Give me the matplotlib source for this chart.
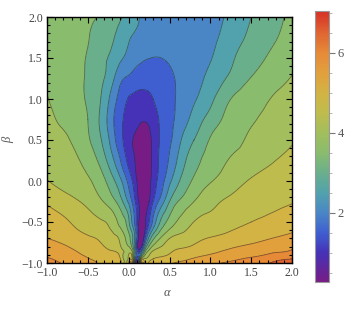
import numpy as np
import matplotlib
matplotlib.use("Agg")
import matplotlib.pyplot as plt
import matplotlib.tri as mtri
from matplotlib.colors import LinearSegmentedColormap, Normalize
from matplotlib.ticker import MultipleLocator, FixedLocator, FuncFormatter
import matplotlib.cm as cm

# ---- data (value of the plotted function on a grid) ----
alpha = [-1, -0.75, -0.5, -0.35, -0.2, -0.1, 0, 0.05, 0.1, 0.15, 0.2, 0.25, 0.3, 0.4, 0.5, 0.65, 0.8, 1.0, 1.25, 1.5, 1.75, 2.0]
beta = [-1, -0.95, -0.85, -0.7, -0.5, -0.25, 0, 0.25, 0.5, 0.75, 1.0, 1.25, 1.5, 1.75, 2.0]

row_m100 = [6.15, 5.89, 5.61, 5.43, 5.21, 5.07, 4.95, 4.85, 0.27, 5.0, 5.06, 5.12, 5.19, 5.31, 5.44, 5.59, 5.72, 5.89, 6.1, 6.31, 6.54, 7.04]
row_m095 = [6.04, 5.78, 5.52, 5.33, 5.13, 5.0, 4.64, 4.33, 1.2, 4.2, 4.58, 4.79, 5.0, 5.11, 5.22, 5.39, 5.54, 5.69, 5.88, 6.08, 6.29, 6.5]
row_m085 = [5.82, 5.61, 5.36, 5.18, 5.0, 4.72, 4.3, 3.67, 1.7, 1.5, 3.25, 4.08, 4.5, 4.7, 4.9, 5.08, 5.21, 5.38, 5.57, 5.73, 5.9, 6.04]
row_m070 = [5.5, 5.29, 5.08, 4.91, 4.64, 4.39, 3.7, 3.0, 1.63, 0.6, 1.5, 2.67, 3.38, 4.08, 4.5, 4.67, 4.83, 5.03, 5.19, 5.34, 5.5, 5.62]
row_m050 = [5.25, 5.03, 4.74, 4.56, 4.29, 3.83, 3.1, 2.33, 1.5, 0.6, 0.9, 1.5, 2.13, 3.14, 3.69, 4.18, 4.51, 4.65, 4.83, 5.0, 5.15, 5.3]
row_m025 = [4.93, 4.67, 4.36, 4.09, 3.67, 3.19, 2.4, 1.88, 1.25, 0.75, 0.6, 1.0, 1.5, 2.25, 3.0, 3.63, 4.0, 4.36, 4.59, 4.71, 4.84, 4.97]
row_p000 = [4.52, 4.29, 4.06, 3.75, 3.15, 2.6, 1.85, 1.45, 1.0, 0.72, 0.66, 0.86, 1.21, 1.8, 2.38, 3.11, 3.58, 3.96, 4.29, 4.54, 4.67, 4.8]
row_p025 = [4.37, 4.16, 3.83, 3.37, 2.62, 2.0, 1.35, 1.1, 0.9, 0.73, 0.72, 0.84, 1.13, 1.65, 2.06, 2.79, 3.31, 3.71, 4.04, 4.25, 4.46, 4.63]
row_p050 = [4.24, 4.04, 3.57, 3.07, 2.25, 1.65, 1.2, 1.0, 0.88, 0.81, 0.82, 0.9, 1.11, 1.59, 1.91, 2.53, 3.0, 3.54, 3.84, 4.09, 4.27, 4.46]
row_p075 = [4.12, 3.87, 3.5, 2.94, 2.11, 1.6, 1.35, 1.25, 1.13, 1.04, 1.03, 1.08, 1.24, 1.6, 1.85, 2.26, 2.68, 3.21, 3.67, 3.94, 4.15, 4.33]
row_p100 = [4.02, 3.76, 3.44, 3.03, 2.28, 1.79, 1.47, 1.42, 1.37, 1.35, 1.37, 1.42, 1.5, 1.69, 1.87, 2.15, 2.44, 2.87, 3.5, 3.77, 4.02, 4.2]
row_p125 = [3.94, 3.71, 3.43, 3.11, 2.62, 2.11, 1.92, 1.84, 1.77, 1.72, 1.69, 1.68, 1.69, 1.76, 1.9, 2.12, 2.32, 2.64, 3.12, 3.52, 3.79, 4.03]
row_p150 = [3.86, 3.67, 3.46, 3.19, 2.87, 2.59, 2.33, 2.23, 2.15, 2.09, 2.04, 2.01, 1.99, 2.0, 2.05, 2.14, 2.27, 2.47, 2.91, 3.28, 3.59, 3.85]
row_p175 = [3.8, 3.66, 3.52, 3.31, 3.05, 2.82, 2.55, 2.47, 2.42, 2.37, 2.32, 2.26, 2.2, 2.11, 2.06, 2.08, 2.15, 2.36, 2.74, 3.11, 3.41, 3.72]
row_p200 = [3.75, 3.65, 3.55, 3.47, 3.22, 3.05, 2.83, 2.7, 2.58, 2.47, 2.42, 2.37, 2.32, 2.23, 2.16, 2.12, 2.16, 2.3, 2.62, 3.0, 3.31, 3.62]

contour_step = 0.5
x_ticks = [-1.0, -0.5, 0.0, 0.5, 1.0, 1.5, 2.0]
y_ticks = [-1.0, -0.5, 0.0, 0.5, 1.0, 1.5, 2.0]
cbar_ticks = [2, 4, 6]

# ---- colour scheme (Mathematica-like rainbow) ----
stops = [
    (0.27, "#781c85"), (1.0, "#4532b8"), (1.5, "#3f60d0"), (2.0, "#4a86c6"),
    (2.5, "#52a2ad"), (3.0, "#6aaf8c"), (3.5, "#8abc6e"), (4.0, "#a2be5c"),
    (4.5, "#bfbc4d"), (5.0, "#d2b344"), (5.5, "#e2a03d"), (6.0, "#e68a38"),
    (6.5, "#e06532"), (7.04, "#d63127"),
]

Z = np.array([row_m100, row_m095, row_m085, row_m070, row_m050, row_m025, row_p000,
              row_p025, row_p050, row_p075, row_p100, row_p125, row_p150, row_p175, row_p200])
vmin, vmax = float(Z.min()), float(Z.max())
pos = [(v - vmin) / (vmax - vmin) for v, _ in stops]
cmap = LinearSegmentedColormap.from_list("mrainbow", list(zip(pos, [c for _, c in stops])))
norm = Normalize(vmin, vmax)

inner = list(np.arange(1.0, 6.5 + 1e-9, contour_step))
levels = [vmin - 5] + inner + [vmax + 5]
band_colors = [cmap(norm(max(l, vmin))) for l in levels[:-1]]

# smooth rendering of the read grid via matplotlib's triangulation refiner
A, B = np.meshgrid(alpha, beta)
tri = mtri.Triangulation(A.ravel(), B.ravel())
refiner = mtri.UniformTriRefiner(tri)
interp = mtri.CubicTriInterpolator(tri, Z.ravel(), kind="min_E")
tri_f, z_f = refiner.refine_field(Z.ravel(), triinterpolator=interp, subdiv=3)

plt.rcParams["font.family"] = ["Liberation Serif", "DejaVu Serif"]

fig = plt.figure(figsize=(3.48, 3.12), dpi=100)
ax = fig.add_axes([47 / 348, 49 / 312, 245 / 348, 246 / 312])
ax.tricontourf(tri_f, z_f, levels=levels, colors=band_colors)
ax.tricontour(tri_f, z_f, levels=inner, colors=[(0.15, 0.15, 0.15, 0.55)], linewidths=0.6)
ax.set_xlim(-1, 2)
ax.set_ylim(-1, 2)

tick_color = "#444444"
fmt = FuncFormatter(lambda v, p: ("%.1f" % v).replace("-", "\u2212"))
ax.xaxis.set_major_locator(FixedLocator(x_ticks))
ax.yaxis.set_major_locator(FixedLocator(y_ticks))
ax.xaxis.set_minor_locator(MultipleLocator(0.1))
ax.yaxis.set_minor_locator(MultipleLocator(0.1))
ax.xaxis.set_major_formatter(fmt)
ax.yaxis.set_major_formatter(fmt)
ax.tick_params(which="both", direction="in", top=True, right=True, colors="black",
               labelcolor=tick_color, labelsize=8.5, width=0.8)
ax.tick_params(which="major", length=4.5, pad=3)
ax.tick_params(which="minor", length=2.5)
for s in ax.spines.values():
    s.set_linewidth(1.0)

fig.text(167 / 348, 1 - 293 / 312, "\u03b1", ha="center", va="center", fontsize=9,
         style="italic", color="#555555")
fig.text(8 / 348, 1 - 140 / 312, "\u03b2", ha="center", va="center", fontsize=9,
         style="italic", color="#555555", rotation=90)

cax = fig.add_axes([315 / 348, 30 / 312, 14 / 348, 271 / 312])
sm = cm.ScalarMappable(norm=norm, cmap=cmap)
cb = fig.colorbar(sm, cax=cax)
cb.outline.set_edgecolor("#999999")
cb.outline.set_linewidth(0.8)
cax.yaxis.set_major_locator(FixedLocator(cbar_ticks))
cax.yaxis.set_minor_locator(MultipleLocator(0.5))
cax.tick_params(which="major", length=4, color="#777777", labelcolor="#555555", labelsize=9, pad=2)
cax.tick_params(which="minor", length=2, color="#aaaaaa")

fig.savefig("out.png", dpi=100)
